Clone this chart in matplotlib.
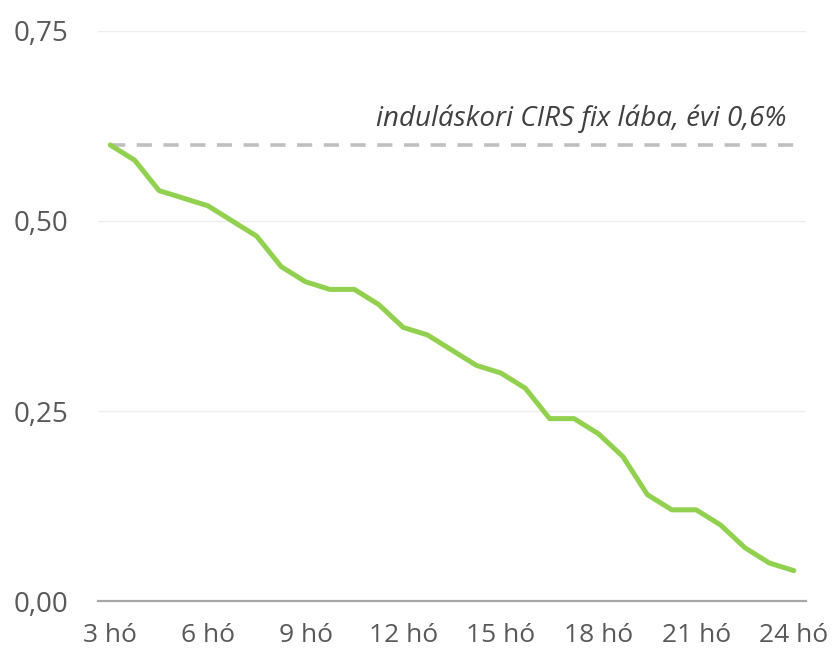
import matplotlib.pyplot as plt
from matplotlib.ticker import FuncFormatter

# adatok: 3 hó .. 24 hó, 29 pont (negyedhavonta)
months = [3 + 0.75 * i for i in range(29)]
values = [0.60, 0.58, 0.54, 0.53, 0.52, 0.50, 0.48, 0.44, 0.42, 0.41,
          0.41, 0.39, 0.36, 0.35, 0.33, 0.31, 0.30, 0.28, 0.24, 0.24,
          0.22, 0.19, 0.14, 0.12, 0.12, 0.10, 0.07, 0.05, 0.04]
fix_leg = 0.6
fix_label = 'induláskori CIRS fix lába, évi 0,6%'
y_ticks = [0.0, 0.25, 0.5, 0.75]

plt.rcParams['font.family'] = ['Open Sans', 'DejaVu Sans']

fig = plt.figure(figsize=(8.32, 6.55), dpi=100)
ax = fig.add_axes([0.1178, 0.0824, 0.8510, 0.8703])

x = list(range(len(values)))

# fix láb szaggatott vonal
ax.plot([x[0], x[-1]], [fix_leg, fix_leg], color='#BFBFBF', linewidth=2.6,
        linestyle=(0, (4.2, 3.2)), dash_capstyle='butt', zorder=2)
ax.text(x[-1] - 0.3, fix_leg + 0.034, fix_label, style='italic', color='#404040',
        fontsize=20, ha='right', va='center')

# zöld vonal
ax.plot(x, values, color='#92D050', linewidth=3.6, solid_joinstyle='round',
        solid_capstyle='round', zorder=3)

ax.set_xlim(-0.5, len(values) - 0.5)
ax.set_ylim(0, 0.75)
ax.set_yticks(y_ticks)
ax.yaxis.set_major_formatter(FuncFormatter(lambda v, p: f'{v:.2f}'.replace('.', ',')))

tick_idx = [i for i, m in enumerate(months) if m == int(m) and int(m) % 3 == 0]
ax.set_xticks(tick_idx)
ax.set_xticklabels([f'{int(months[i])} hó' for i in tick_idx])

ax.grid(axis='y', color='#EDEDED', linewidth=1)
ax.set_axisbelow(True)
for s in ['top', 'right', 'left']:
    ax.spines[s].set_visible(False)
ax.spines['bottom'].set_color('#A6A6A6')
ax.spines['bottom'].set_linewidth(1.6)

ax.tick_params(axis='both', length=0, colors='#595959')
ax.tick_params(axis='y', pad=21, labelsize=20)
ax.tick_params(axis='x', pad=16, labelsize=19)

plt.savefig('out.png', dpi=100)
